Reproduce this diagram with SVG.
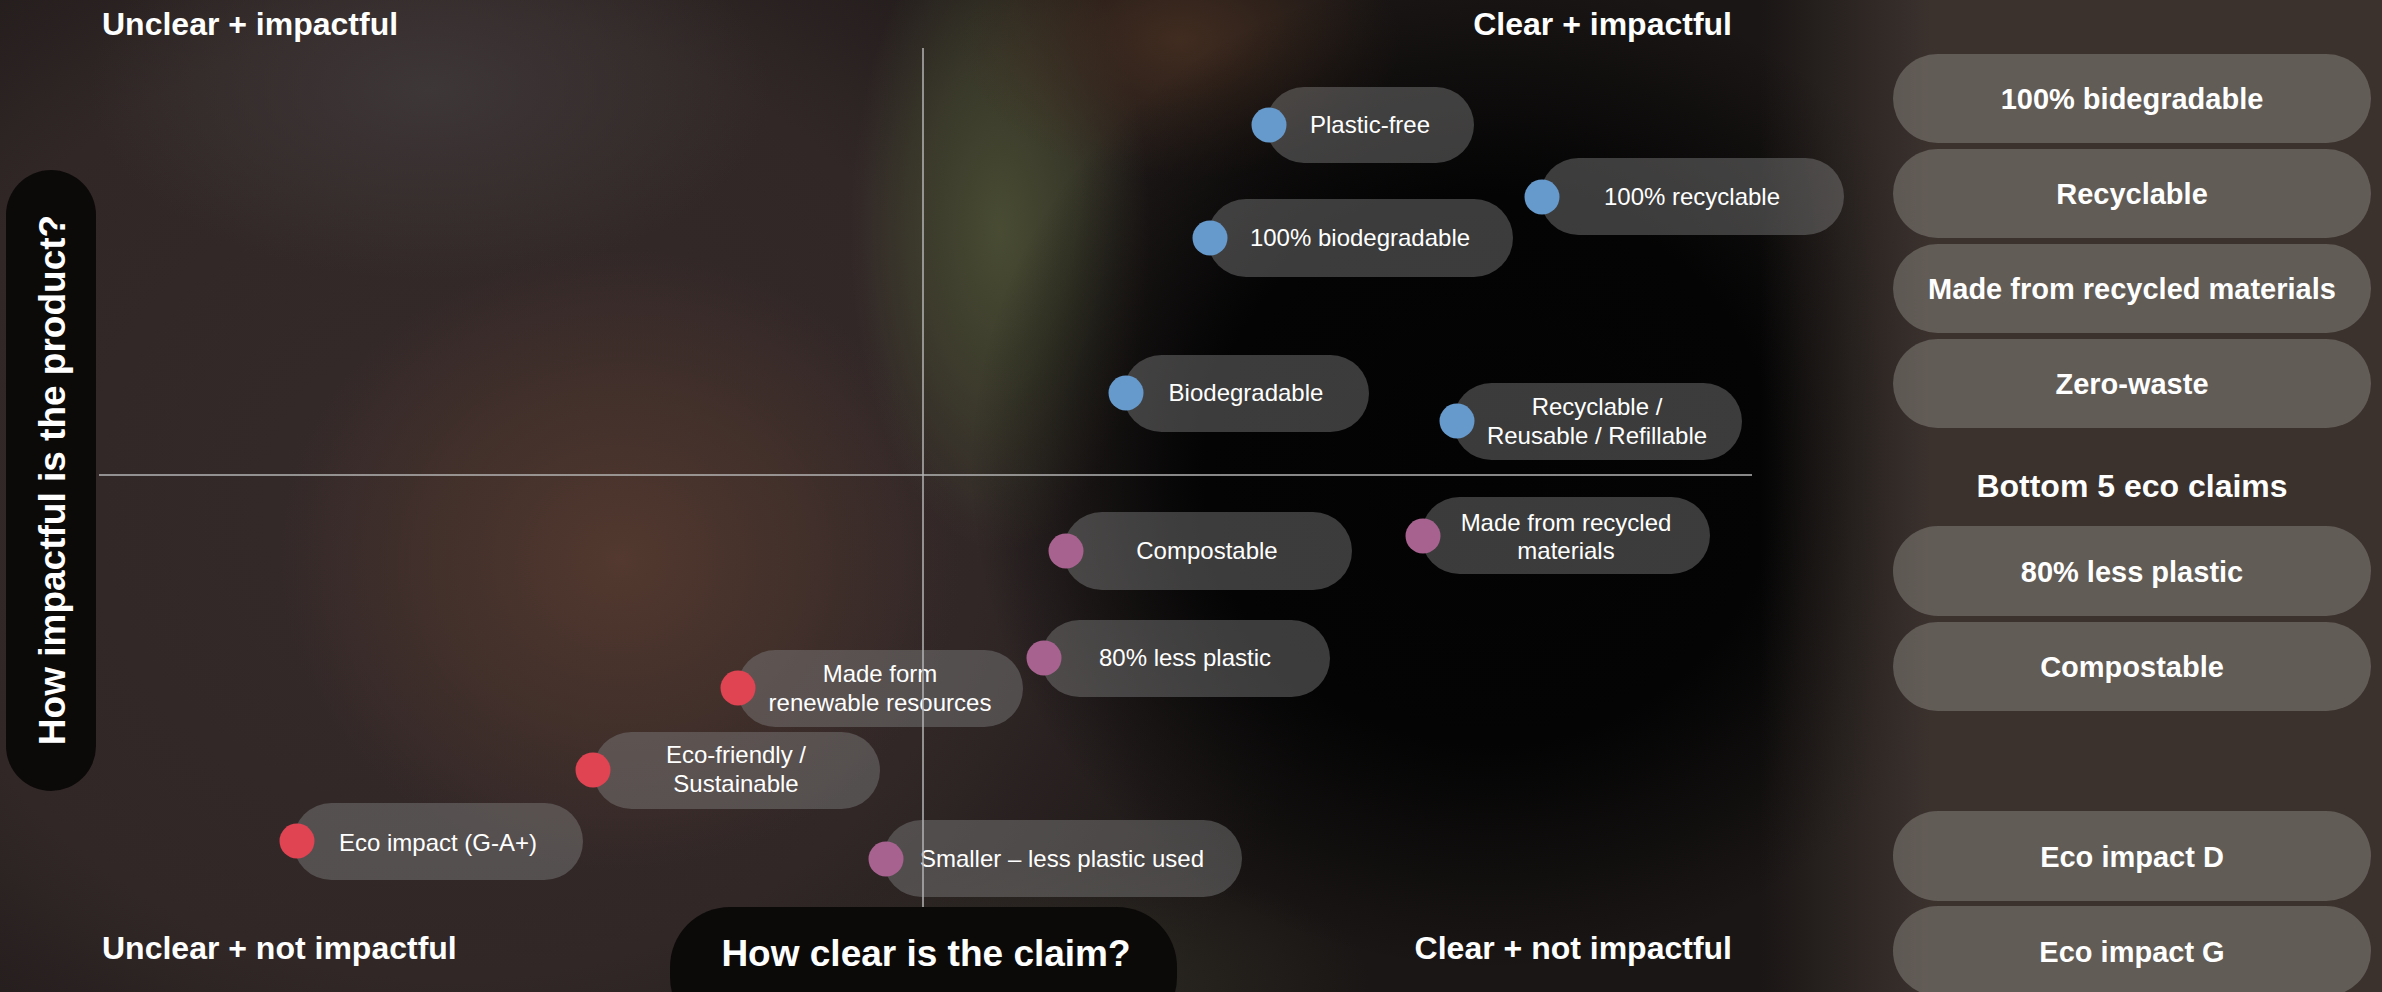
<svg xmlns="http://www.w3.org/2000/svg" width="2382" height="992" viewBox="0 0 2382 992">
<defs>
<radialGradient id="gLeft"><stop offset="0" stop-color="#352a2a"/><stop offset="0.6" stop-color="#312727"/><stop offset="1" stop-color="#312727" stop-opacity="0"/></radialGradient>
<radialGradient id="gRed"><stop offset="0" stop-color="#53392f"/><stop offset="0.5" stop-color="#4a342c" stop-opacity="0.7"/><stop offset="1" stop-color="#4a342c" stop-opacity="0"/></radialGradient>
<radialGradient id="gGrey"><stop offset="0" stop-color="#3e3737"/><stop offset="1" stop-color="#3e3737" stop-opacity="0"/></radialGradient>
<radialGradient id="gGreen"><stop offset="0" stop-color="#494c33"/><stop offset="0.5" stop-color="#42452f" stop-opacity="0.7"/><stop offset="1" stop-color="#42452f" stop-opacity="0"/></radialGradient>
<radialGradient id="gBrown"><stop offset="0" stop-color="#412c20"/><stop offset="1" stop-color="#412c20" stop-opacity="0"/></radialGradient>
<radialGradient id="gBlack"><stop offset="0" stop-color="#030303"/><stop offset="0.55" stop-color="#040404"/><stop offset="1" stop-color="#040404" stop-opacity="0"/></radialGradient>
<radialGradient id="gOlive"><stop offset="0" stop-color="#2f2d25"/><stop offset="1" stop-color="#2f2d25" stop-opacity="0"/></radialGradient>
<linearGradient id="gRight" gradientUnits="userSpaceOnUse" x1="1760" y1="0" x2="1930" y2="0"><stop offset="0" stop-color="#3b322e" stop-opacity="0"/><stop offset="1" stop-color="#3b322e"/></linearGradient>
<style>
.pill{fill:#808080;fill-opacity:.45}
.lbl{font-family:"Liberation Sans",Arial,sans-serif;font-size:24px;fill:#fff;text-anchor:middle}
.q{font-family:"Liberation Sans",Arial,sans-serif;font-size:32px;font-weight:bold;fill:#fff}
.axis{stroke:#b5b5b5;stroke-width:1.5;fill:none}
.spill{fill:#8a8580;fill-opacity:.5}
.stxt{font-family:"Liberation Sans",Arial,sans-serif;font-size:29px;font-weight:bold;fill:#fff;text-anchor:middle}
.dark{fill:#0c0a09}
.title{font-family:"Liberation Sans",Arial,sans-serif;font-size:37px;font-weight:bold;fill:#fff;text-anchor:middle}
.blue{fill:#6699cc}.pink{fill:#a8628f}.red{fill:#e04352}
</style>
</defs>
<g id="background">
<rect width="2382" height="992" fill="#1a1615"/>
<ellipse cx="450" cy="500" rx="900" ry="800" fill="url(#gLeft)"/>
<ellipse cx="620" cy="560" rx="340" ry="310" fill="url(#gRed)"/>
<ellipse cx="430" cy="90" rx="340" ry="190" fill="url(#gGrey)"/>
<ellipse cx="1000" cy="230" rx="150" ry="320" fill="url(#gGreen)"/>
<ellipse cx="1180" cy="40" rx="220" ry="140" fill="url(#gBrown)"/>
<ellipse cx="1050" cy="985" rx="320" ry="130" fill="url(#gOlive)"/>
<ellipse cx="1490" cy="470" rx="520" ry="500" fill="url(#gBlack)"/>
<rect x="1760" y="0" width="622" height="992" fill="url(#gRight)"/>
</g>
<g id="quadrant-labels">
<text class="q" x="102" y="35">Unclear + impactful</text>
<text class="q" x="1732" y="35" text-anchor="end">Clear + impactful</text>
<text class="q" x="102" y="959">Unclear + not impactful</text>
<text class="q" x="1732" y="959" text-anchor="end">Clear + not impactful</text>
</g>
<g id="y-axis-title">
<rect class="dark" x="6" y="170" width="90" height="621" rx="45"/>
<text class="title" x="65" y="480" transform="rotate(-90 65 480)">How impactful is the product?</text>
</g>
<g id="x-axis-title">
<rect class="dark" x="670" y="907" width="507" height="130" rx="60"/>
<text class="title" x="926" y="966">How clear is the claim?</text>
</g>
<g id="plastic-free"><rect class="pill" x="1266" y="87" width="208" height="76" rx="38"/><circle class="blue" cx="1269" cy="125" r="17.5"/><text class="lbl" x="1370" y="133">Plastic-free</text></g>
<g id="recyclable-100"><rect class="pill" x="1540" y="158" width="304" height="77" rx="38.5"/><circle class="blue" cx="1542" cy="197" r="17.5"/><text class="lbl" x="1692" y="205">100% recyclable</text></g>
<g id="biodegradable-100"><rect class="pill" x="1207" y="199" width="306" height="78" rx="39"/><circle class="blue" cx="1210" cy="238" r="17.5"/><text class="lbl" x="1360" y="246">100% biodegradable</text></g>
<g id="biodegradable"><rect class="pill" x="1123" y="355" width="246" height="77" rx="38.5"/><circle class="blue" cx="1126" cy="393" r="17.5"/><text class="lbl" x="1246" y="401">Biodegradable</text></g>
<g id="recyclable-reusable"><rect class="pill" x="1453" y="383" width="289" height="77" rx="38.5"/><circle class="blue" cx="1457" cy="421" r="17.5"/><text class="lbl" x="1597" y="415">Recyclable /</text><text class="lbl" x="1597" y="444">Reusable / Refillable</text></g>
<g id="compostable"><rect class="pill" x="1063" y="512" width="289" height="78" rx="39"/><circle class="pink" cx="1066" cy="551" r="17.5"/><text class="lbl" x="1207" y="559">Compostable</text></g>
<g id="made-from-recycled"><rect class="pill" x="1421" y="497" width="289" height="77" rx="38.5"/><circle class="pink" cx="1423" cy="536" r="17.5"/><text class="lbl" x="1566" y="531">Made from recycled</text><text class="lbl" x="1566" y="559">materials</text></g>
<g id="less-plastic-80"><rect class="pill" x="1041" y="620" width="289" height="77" rx="38.5"/><circle class="pink" cx="1044" cy="658" r="17.5"/><text class="lbl" x="1185" y="666">80% less plastic</text></g>
<g id="made-form-renewable"><rect class="pill" x="737" y="650" width="286" height="77" rx="38.5"/><circle class="red" cx="738" cy="688" r="17.5"/><text class="lbl" x="880" y="682">Made form</text><text class="lbl" x="880" y="711">renewable resources</text></g>
<g id="eco-friendly"><rect class="pill" x="593" y="732" width="287" height="77" rx="38.5"/><circle class="red" cx="593" cy="770" r="17.5"/><text class="lbl" x="736" y="763">Eco-friendly /</text><text class="lbl" x="736" y="792">Sustainable</text></g>
<g id="eco-impact"><rect class="pill" x="293" y="803" width="290" height="77" rx="38.5"/><circle class="red" cx="297" cy="841" r="17.5"/><text class="lbl" x="438" y="851">Eco impact (G-A+)</text></g>
<g id="smaller"><rect class="pill" x="883" y="820" width="359" height="77" rx="38.5"/><circle class="pink" cx="886" cy="859" r="17.5"/><text class="lbl" x="1062" y="867">Smaller – less plastic used</text></g>
<g id="connectors">
<line class="axis" x1="923" y1="48" x2="923" y2="907"/>
<line class="axis" x1="99" y1="475" x2="1752" y2="475"/>
</g>
<g id="top-claims">
<g id="top-1"><rect class="spill" x="1893" y="54" width="478" height="89" rx="44.5"/><text class="stxt" x="2132" y="109">100% bidegradable</text></g>
<g id="top-2"><rect class="spill" x="1893" y="149" width="478" height="89" rx="44.5"/><text class="stxt" x="2132" y="204">Recyclable</text></g>
<g id="top-3"><rect class="spill" x="1893" y="244" width="478" height="89" rx="44.5"/><text class="stxt" x="2132" y="299">Made from recycled materials</text></g>
<g id="top-4"><rect class="spill" x="1893" y="339" width="478" height="89" rx="44.5"/><text class="stxt" x="2132" y="394">Zero-waste</text></g>
</g>
<g id="bottom-claims">
<text class="q" x="2132" y="497" text-anchor="middle">Bottom 5 eco claims</text>
<g id="bottom-1"><rect class="spill" x="1893" y="526" width="478" height="90" rx="45"/><text class="stxt" x="2132" y="582">80% less plastic</text></g>
<g id="bottom-2"><rect class="spill" x="1893" y="622" width="478" height="89" rx="44.5"/><text class="stxt" x="2132" y="677">Compostable</text></g>
<g id="bottom-3"><rect class="spill" x="1893" y="811" width="478" height="90" rx="45"/><text class="stxt" x="2132" y="867">Eco impact D</text></g>
<g id="bottom-4"><rect class="spill" x="1893" y="906" width="478" height="90" rx="45"/><text class="stxt" x="2132" y="962">Eco impact G</text></g>
</g>
</svg>
